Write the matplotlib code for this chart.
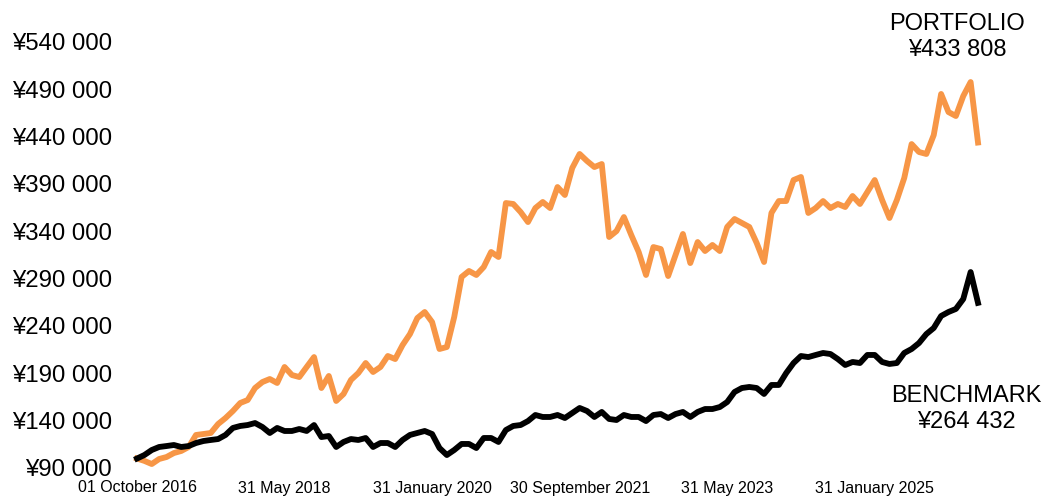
import matplotlib
matplotlib.use("Agg")
import matplotlib.pyplot as plt
from matplotlib.ticker import FuncFormatter

plt.rcParams['font.family'] = ['Liberation Sans', 'DejaVu Sans']

# monthly values, index 0 = 01 October 2016
portfolio = [
    100000, 97500, 94200, 99500, 101600, 105800, 108000, 112200, 124900, 125900,
    127000, 136500, 142800, 150200, 158700, 161800, 174500, 180800, 184000, 179800,
    196700, 188200, 186100, 196700, 207200, 174500, 187200, 160800, 168200, 183000,
    190300, 200900, 191400, 196700, 208300, 205100, 219900, 231500, 248400, 254800,
    244200, 215700, 217800, 249500, 291800, 298100, 293900, 302300, 318200, 312900,
    369900, 368900, 360400, 349800, 364600, 371000, 364600, 386800, 378400, 406900,
    421700, 414300, 407900, 411100, 334000, 340300, 355100, 336100, 318200, 293900,
    323400, 321300, 292800, 315000, 337200, 306500, 328700, 319200, 325600, 319200,
    344600, 353000, 348800, 344600, 327700, 307600, 359400, 372000, 372000, 394200,
    397400, 359400, 364600, 372000, 364600, 368900, 365700, 377300, 368900, 381500,
    394200, 373100, 354100, 373100, 396300, 432200, 423800, 421700, 441700, 485100,
    466000, 461800, 482900, 497700, 433808,
]
benchmark = [
    100000, 103700, 109000, 112200, 113200, 114300, 112200, 113200, 116400, 118500,
    119600, 120600, 124900, 132300, 134400, 135400, 137500, 133300, 127000, 132300,
    129100, 129100, 131200, 129100, 135400, 122700, 123800, 112200, 117500, 120600,
    119600, 121700, 112200, 116400, 116400, 112200, 119600, 124900, 127000, 129100,
    125900, 111100, 103700, 109000, 115400, 115400, 111100, 121700, 121700, 117500,
    130100, 134400, 135400, 139600, 146000, 143900, 143900, 146000, 142800, 148100,
    153400, 150200, 143900, 149200, 141800, 140700, 146000, 143900, 143900, 139600,
    146000, 147000, 142800, 147000, 149200, 143900, 149200, 152300, 152300, 154400,
    159700, 170300, 174500, 175600, 174500, 168200, 177700, 177700, 190300, 200900,
    208300, 207200, 209400, 211500, 210400, 205100, 198800, 202000, 200900, 209400,
    209400, 202000, 199900, 200900, 211500, 215700, 222000, 231500, 237900, 250600,
    254800, 258000, 268500, 297000, 264432,
]
tick_pos = [0, 20, 40, 60, 80, 100]
tick_labels = ["01 October 2016", "31 May 2018", "31 January 2020",
               "30 September 2021", "31 May 2023", "31 January 2025"]
y_ticks = list(range(90000, 540001, 50000))


def yen(v, pos=None):
    return "¥" + f"{int(v):,}".replace(",", " ")


fig = plt.figure(figsize=(10.43, 4.97), dpi=100)
ax = fig.add_axes([137 / 1043, 29 / 497, (978 - 137) / 1043, (468 - 42) / 497])

x = range(len(portfolio))
ax.plot(x, portfolio, color="#F79646", lw=4.2, solid_joinstyle="round", clip_on=False)
ax.plot(x, benchmark, color="black", lw=4.2, solid_joinstyle="round", clip_on=False)

ax.set_xlim(0, len(portfolio) - 1)
ax.set_ylim(90000, 540000)
ax.set_yticks(y_ticks)
ax.yaxis.set_major_formatter(FuncFormatter(yen))
ax.set_xticks(tick_pos)
ax.set_xticklabels(tick_labels)
ax.tick_params(axis="y", length=0, pad=18, labelsize=17.3)
ax.tick_params(axis="x", length=0, pad=9, labelsize=11.5)
for s in ax.spines.values():
    s.set_visible(False)

fig.text(957 / 1043, 1 - 37 / 497, "PORTFOLIO\n" + yen(portfolio[-1]),
         ha="center", va="center", fontsize=17, linespacing=1.2)
fig.text(966 / 1043, 1 - 409 / 497, "BENCHMARK\n" + yen(benchmark[-1]),
         ha="center", va="center", fontsize=17, linespacing=1.2)

fig.savefig("out.png", dpi=100)
